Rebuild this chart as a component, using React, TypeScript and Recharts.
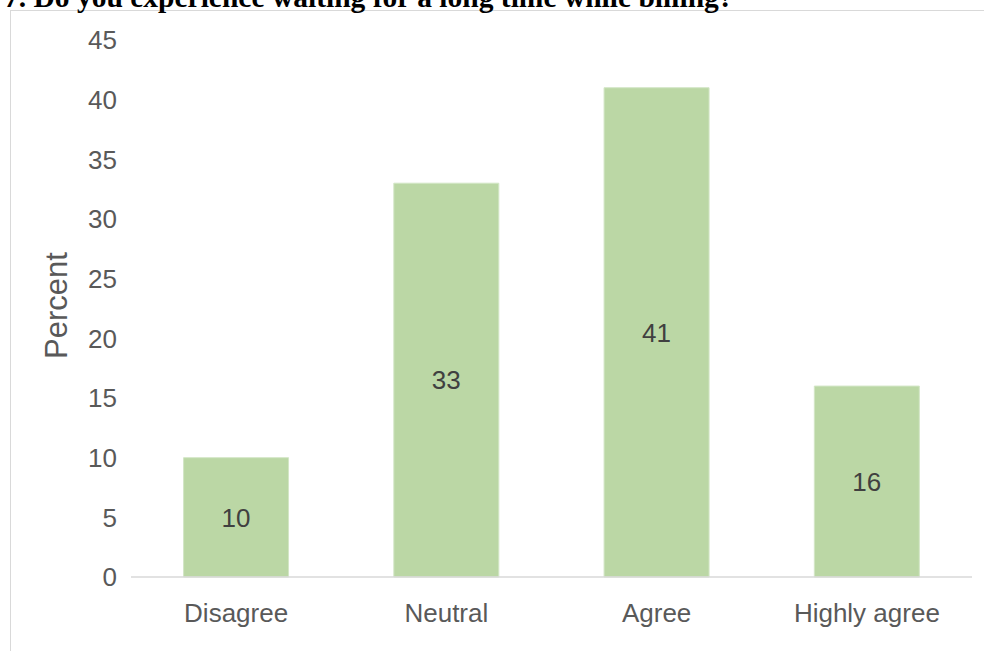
import { Bar, BarChart, LabelList, XAxis, YAxis } from "recharts";

const categories = ["Disagree", "Neutral", "Agree", "Highly agree"];
const percents = [10, 33, 41, 16];
const yTicks = [0, 5, 10, 15, 20, 25, 30, 35, 40, 45];

const title = "7. Do you experience waiting for a long time while billing?";

const chartData = categories.map((name, i) => ({ name, percent: percents[i] }));

const axisFont = "'Liberation Sans', Arial, sans-serif";

// rotated axis title, placed inside the y axis box
function PercentLabel({ viewBox }: any) {
  const cx = viewBox.x + 56;
  const cy = viewBox.y + viewBox.height / 2 - 3;
  return (
    <text
      x={cx}
      y={cy}
      transform={`rotate(-90, ${cx}, ${cy})`}
      textAnchor="middle"
      dominantBaseline="central"
      fontSize={31}
      fill="#595959"
      fontFamily={axisFont}
    >
      Percent
    </text>
  );
}

export default function App() {
  return (
    <div
      style={{
        position: "absolute",
        left: 0,
        top: 0,
        width: 984,
        height: 651,
        overflow: "hidden",
        background: "#ffffff",
      }}
    >
      <div
        style={{
          position: "absolute",
          left: 10,
          top: 10,
          width: 1000,
          height: 700,
          border: "1px solid #d9d9d9",
        }}
      />
      <svg
        width={984}
        height={14}
        style={{ position: "absolute", left: 0, top: 0 }}
      >
        <text
          x={4}
          y={7}
          fontFamily="'Liberation Serif', 'Times New Roman', serif"
          fontWeight="bold"
          fontSize={29.5}
          fill="#000000"
        >
          {title}
        </text>
      </svg>
      <div style={{ position: "absolute", left: 0, top: 0 }}>
        <BarChart
          width={984}
          height={651}
          data={chartData}
          margin={{ top: 40, right: 12, bottom: 0, left: 0 }}
          barCategoryGap="25%"
        >
          <XAxis
            dataKey="name"
            height={74}
            axisLine={{ stroke: "#d9d9d9", strokeWidth: 1.5 }}
            tickLine={false}
            tickSize={0}
            tickMargin={27}
            tick={{ fontSize: 26, fill: "#595959", fontFamily: axisFont }}
          />
          <YAxis
            width={131}
            domain={[0, 45]}
            ticks={yTicks}
            axisLine={false}
            tickLine={false}
            tickSize={0}
            tickMargin={14}
            tick={{ fontSize: 26, fill: "#595959", fontFamily: axisFont }}
            label={{ content: PercentLabel }}
          />
          <Bar
            dataKey="percent"
            fill="#bbd7a5"
            stroke="#d3e6c6"
            strokeWidth={1}
            isAnimationActive={false}
          >
            <LabelList
              dataKey="percent"
              position="center"
              fill="#404040"
              fontSize={26}
              fontFamily={axisFont}
            />
          </Bar>
        </BarChart>
      </div>
    </div>
  );
}
